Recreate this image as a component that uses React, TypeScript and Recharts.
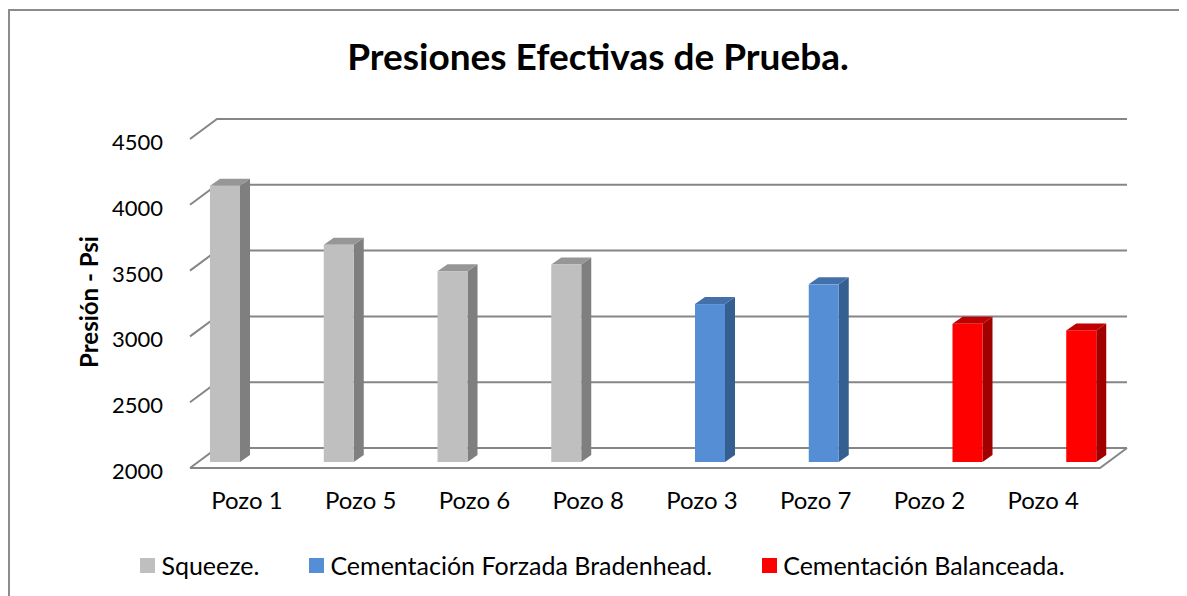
import React from 'react';
import { BarChart, Bar, XAxis, YAxis, CartesianGrid } from 'recharts';

const pozos = ['Pozo 1', 'Pozo 5', 'Pozo 6', 'Pozo 8', 'Pozo 3', 'Pozo 7', 'Pozo 2', 'Pozo 4'];
const squeeze = [4100, 3650, 3450, 3500, null, null, null, null];
const bradenhead = [null, null, null, null, 3200, 3350, null, null];
const balanceada = [null, null, null, null, null, null, 3050, 3000];
const yTicks = [2000, 2500, 3000, 3500, 4000, 4500];

const series = [
  { key: 'squeeze', name: 'Squeeze.', fill: '#BFBFBF', side: '#7F7F7F', top: '#969696' },
  { key: 'bradenhead', name: 'Cementación Forzada Bradenhead.', fill: '#558ED5', side: '#365F91', top: '#4470AA' },
  { key: 'balanceada', name: 'Cementación Balanceada.', fill: '#FF0000', side: '#A00000', top: '#C00000' },
];

const data = pozos.map((name, i) => ({
  name,
  squeeze: squeeze[i],
  bradenhead: bradenhead[i],
  balanceada: balanceada[i],
}));

const FONT = 'Lato, "Open Sans", sans-serif';
// 3d depth of the box and of the bars
const DX = 27;
const DY = 20;
const BDX = 8;
const BDY = 6;

function Bar3D(props: any) {
  const { x, y, width, height, fill, side, top } = props;
  if (height == null || height <= 0) return null;
  const fx = x + BDX;
  const fy = y - BDY;
  const d = 10;
  const e = 7;
  return (
    <g>
      <polygon
        points={`${fx + width},${fy} ${fx + width + d},${fy - e} ${fx + width + d},${fy + height - e} ${fx + width},${fy + height}`}
        fill={side}
      />
      <polygon
        points={`${fx},${fy} ${fx + d},${fy - e} ${fx + width + d},${fy - e} ${fx + width},${fy}`}
        fill={top}
      />
      <rect x={fx} y={fy} width={width} height={height} fill={fill} />
    </g>
  );
}

function GridLine(props: any) {
  const { x1, y1, x2, y, height } = props;
  const bottom = y != null && height != null && Math.abs(y1 - (y + height)) < 1;
  return (
    <g>
      <path
        d={`M${x1},${y1} L${x1 + DX},${y1 - DY} L${x2 + DX},${y1 - DY}`}
        stroke="#868686"
        strokeWidth={2}
        fill="none"
      />
      {bottom && (
        <path
          d={`M${x1},${y1} L${x2},${y1} L${x2 + DX},${y1 - DY}`}
          stroke="#868686"
          strokeWidth={2}
          fill="none"
        />
      )}
    </g>
  );
}

function YTick(props: any) {
  const { x, y, payload } = props;
  return (
    <text x={x - 19} y={y + 11} textAnchor="end" fontSize={22} fontFamily={FONT} fill="#000">
      {payload.value}
    </text>
  );
}

function XTick(props: any) {
  const { x, y, payload } = props;
  return (
    <text x={x} y={y + 33} textAnchor="middle" fontSize={24} fontFamily={FONT} fill="#000">
      {payload.value}
    </text>
  );
}

export default function App() {
  return (
    <div style={{ position: 'relative', width: 1179, height: 600, fontFamily: FONT }}>
      <div
        style={{
          position: 'absolute',
          left: 0,
          top: 1,
          width: 1178,
          height: 620,
          border: '2px solid #8c8c8c',
          boxSizing: 'border-box',
        }}
      />
      <BarChart
        width={1179}
        height={600}
        data={data}
        margin={{ top: 131, right: 87, bottom: 110, left: 0 }}
        barGap={0}
        barSize={30}
        style={{ position: 'absolute', left: 0, top: 0 }}
      >
        <text x={590} y={62} textAnchor="middle" fontSize={37} fontWeight="bold" fontFamily={FONT} fill="#000">
          Presiones Efectivas de Prueba.
        </text>
        <text
          x={80}
          y={294}
          transform="rotate(-90 80 294)"
          textAnchor="middle"
          dominantBaseline="central"
          fontSize={24}
          fontWeight="bold"
          fontFamily={FONT}
          fill="#000"
        >
          Presión - Psi
        </text>
        <CartesianGrid vertical={false} horizontal={(p: any) => <GridLine {...p} />} />
        <XAxis dataKey="name" height={30} axisLine={false} tickLine={false} tick={<XTick />} interval={0} />
        <YAxis
          width={182}
          domain={[2000, 4500]}
          ticks={yTicks}
          allowDataOverflow
          axisLine={false}
          tickLine={false}
          tick={<YTick />}
        />
        {series.map((s) => (
          <Bar
            key={s.key}
            dataKey={s.key}
            name={s.name}
            fill={s.fill}
            isAnimationActive={false}
            shape={(p: any) => <Bar3D {...p} fill={s.fill} side={s.side} top={s.top} />}
          />
        ))}
      </BarChart>
      <div
        style={{
          position: 'absolute',
          left: 0,
          top: 542,
          width: 1189,
          display: 'flex',
          justifyContent: 'center',
          gap: 50,
          fontSize: 25,
          lineHeight: '30px',
          color: '#000',
        }}
      >
        {series.map((s) => (
          <div key={s.key} style={{ display: 'flex', alignItems: 'center' }}>
            <span style={{ width: 15, height: 15, background: s.fill, marginRight: 6, display: 'inline-block' }} />
            <span>{s.name}</span>
          </div>
        ))}
      </div>
    </div>
  );
}
